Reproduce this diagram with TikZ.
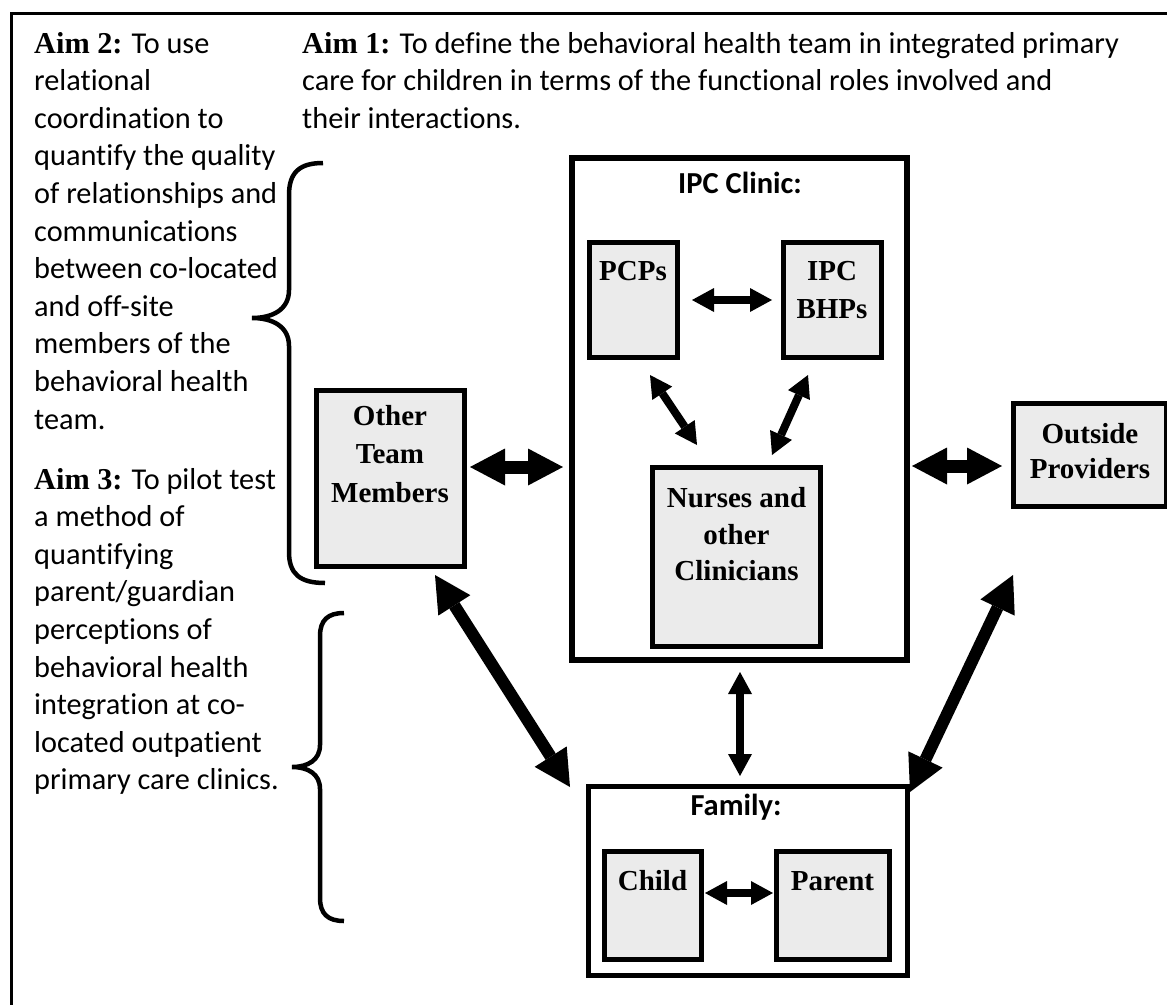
\documentclass[tikz,border=0pt]{standalone}
\usepackage{fontspec}
\setmainfont{Carlito}[Ligatures=NoCommon]
\newfontfamily\tnr{Liberation Serif}
\usetikzlibrary{arrows.meta,calc}
\definecolor{boxgray}{HTML}{EBEBEB}
\newcommand\aimhead[1]{{\tnr\bfseries #1}}
\begin{document}
\begin{tikzpicture}[x=1pt,y=-1pt,
  box/.style={draw, line width=5pt, fill=boxgray, inner sep=0pt},
  bigbox/.style={draw, line width=6pt, fill=white, inner sep=0pt},
  lbl/.style={font=\tnr\bfseries\fontsize{29pt}{34pt}\selectfont, anchor=base, inner sep=0pt},
  aim/.style={font=\fontsize{30.3pt}{36pt}\selectfont, anchor=base west, inner sep=0pt},
  ttl/.style={font=\bfseries\fontsize{30.5pt}{34pt}\selectfont, anchor=base, inner sep=0pt},
  sarr/.style={line width=8pt, {Triangle[length=22pt,width=24pt,line width=0pt]}-{Triangle[length=22pt,width=24pt,line width=0pt]}},
  marr/.style={line width=13pt, {Triangle[length=35pt,width=37pt,line width=0pt]}-{Triangle[length=35pt,width=37pt,line width=0pt]}},
  barr/.style={line width=12pt, {Triangle[length=36pt,width=38pt,line width=0pt]}-{Triangle[length=36pt,width=38pt,line width=0pt]}},
  brace/.style={line width=4.5pt}
]
\useasboundingbox (0,0) rectangle (1167,1004);
\fill[white] (0,0) rectangle (1167,1004);
% outer frame
\draw[line width=3pt] (11,13) rectangle (1185,1020);

% Aim 2 / Aim 3 text
\foreach \t [count=\i] in {{\aimhead{Aim 2:} To use},relational,coordination to,quantify the quality,of relationships and,communications,between co-located,and off-site,members of the,behavioral health,team.}
  {\node[aim] (atwo\i) at (34,{53+37.6*(\i-1)}) {\t};}
\foreach \t [count=\i] in {{\aimhead{Aim 3:} To pilot test},a method of,quantifying,parent/guardian,perceptions of,behavioral health,integration at co-,located outpatient,primary care clinics.}
  {\node[aim] (athree\i) at (34,{489+37.6*(\i-1)}) {\t};}
\foreach \t [count=\i] in {{\aimhead{Aim 1:} To define the behavioral health team in integrated primary},care for children in terms of the functional roles involved and,their interactions.}
  {\node[aim] (aone\i) at (302,{53+37.6*(\i-1)}) {\t};}

% braces
\draw[brace] (323,163) .. controls (300,163) and (289,172) .. (289,195) -- (289,290)
  .. controls (289,310) and (272,318) .. (252,318)
  .. controls (272,318) and (289,326) .. (289,346) -- (289,552)
  .. controls (289,574) and (300,583) .. (325,583);
\draw[brace] (344,613) .. controls (328,613) and (320,620) .. (320,636) -- (320,745)
  .. controls (320,760) and (308,767) .. (292,767)
  .. controls (308,767) and (320,774) .. (320,789) -- (320,898)
  .. controls (320,914) and (328,921) .. (344,921);

% IPC clinic
\node[bigbox, minimum width=335pt, minimum height=502pt] (ipc) at (739.5,409) {};
\node[ttl] (ipct) at (740,193) {IPC Clinic:};
\node[box, minimum width=88pt, minimum height=115pt] (pcp) at (633,299.5) {};
\node[lbl] (pcpt) at (633,280) {PCPs};
\node[box, minimum width=98pt, minimum height=115pt] (bhp) at (832,299.5) {};
\node[lbl] (bhpt1) at (832,280) {IPC};
\node[lbl] (bhpt2) at (832,318) {BHPs};
\node[box, minimum width=168pt, minimum height=179pt] (nur) at (736.5,557) {};
\node[lbl] (nurt1) at (736.5,507) {Nurses and};
\node[lbl] (nurt2) at (736.5,544) {other};
\node[lbl] (nurt3) at (736.5,580) {Clinicians};

% Other team members
\node[box, minimum width=148pt, minimum height=176pt] (oth) at (390,478) {};
\node[lbl] (otht1) at (390,425) {Other};
\node[lbl] (otht2) at (390,463) {Team};
\node[lbl] (otht3) at (390,502) {Members};

% Outside providers
\node[box, minimum width=153pt, minimum height=103pt] (out) at (1089.5,454.5) {};
\node[lbl] (outt1) at (1090,443) {Outside};
\node[lbl] (outt2) at (1090,478) {Providers};

% Family
\node[box, fill=white, minimum width=319pt, minimum height=189pt] (fam) at (747.5,880.5) {};
\node[ttl] (famt) at (736,815) {Family:};
\node[box, minimum width=97pt, minimum height=108pt] (chi) at (652.5,905) {};
\node[lbl] (chit) at (652.5,890) {Child};
\node[box, minimum width=113pt, minimum height=108pt] (par) at (832.5,905) {};
\node[lbl] (part) at (832.5,890) {Parent};

% connectors
\draw[sarr] ($(pcp.east)+(12.5,0.5)$) -- ($(bhp.west)+(-8.5,0.5)$);
\draw[sarr] ($(pcp.south)+(17,15.5)$) -- ($(nur.north)+(-39.5,-20)$);
\draw[sarr] ($(bhp.south)+(-24,15.5)$) -- ($(nur.north)+(35.5,-10)$);
\draw[marr] ($(oth.east)+(3.5,-11)$) -- ($(ipc.west)+(-6,58)$);
\draw[marr] ($(ipc.east)+(2,57)$) -- ($(out.west)+(-8.5,11.5)$);
\draw[sarr] ($(ipc.south)+(0.5,9)$) -- ($(fam.north)+(-7.5,-7.5)$);
\draw[barr] ($(oth.south)+(45,6.5)$) -- ($(fam.north west)+(-15.5,3.5)$);
\draw[barr] ($(out.south)+(-76.5,66.5)$) -- ($(fam.north east)+(0.5,8.5)$);
\draw[sarr] ($(chi.east)+(1.5,-12)$) -- ($(par.west)+(-0.5,-12)$);
\end{tikzpicture}
\end{document}
